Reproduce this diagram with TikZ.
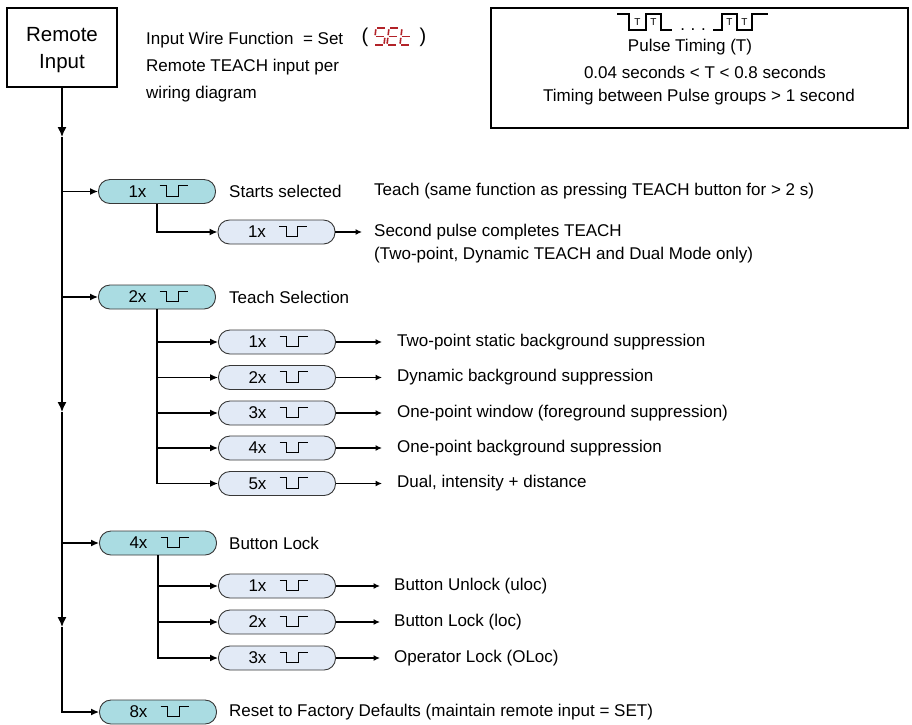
\documentclass[tikz,border=0pt]{standalone}
\usepackage{fontspec}
\setmainfont{Liberation Sans}
\usetikzlibrary{arrows.meta,calc}
\definecolor{tealc}{RGB}{170,220,226}
\definecolor{paleb}{RGB}{226,234,246}
\definecolor{edgec}{RGB}{55,55,55}
\definecolor{segred}{RGB}{178,34,40}
\tikzset{
  txt/.style={font=\fontsize{17}{20}\selectfont, inner sep=0pt, anchor=west},
  ctxt/.style={font=\fontsize{17}{20}\selectfont, inner sep=0pt},
  cnt/.style={font=\fontsize{17}{20}\selectfont, inner sep=0pt},
  pillA/.style={draw=edgec, line width=0.9pt, fill=tealc, rounded corners=11.5pt, minimum width=117pt, minimum height=24pt, inner sep=0pt},
  pillB/.style={pillA, fill=paleb},
  wave/.style={line width=0.9pt, black},
  conn/.style={line width=1.4pt, black},
  marr/.style={conn, -{Latex[length=10pt,width=9pt]}},
  barr/.style={conn, -{Latex[length=8pt,width=7pt]}},
  rarr/.style={line width=1.3pt, -{Latex[length=6.5pt,width=6pt]}},
  seg/.style={line width=1.6pt, segred},
}
\newcommand{\pulsepill}[5]{%
  \node[#5] (#1) at (#2,#3) {};
  \node[cnt] (#1c) at ($(#1.center)+(-19.5,0)$) {#4};
  \draw[wave] ($(#1.center)+(2.5,-6)$) -- ++(7,0) -- ++(0,10.5) -- ++(11.5,0) -- ++(0,-10.5) -- ++(9.5,0);
}
\newcommand{\segxa}{\draw[seg] (1.3,0) -- (8.7,0);}
\newcommand{\segxb}{\draw[seg] (10,1.3) -- (10,7.2);}
\newcommand{\segxc}{\draw[seg] (10,9.8) -- (10,15.7);}
\newcommand{\segxd}{\draw[seg] (1.3,17) -- (8.7,17);}
\newcommand{\segxe}{\draw[seg] (0,9.8) -- (0,15.7);}
\newcommand{\segxf}{\draw[seg] (0,1.3) -- (0,7.2);}
\newcommand{\segxg}{\draw[seg] (1.3,8.5) -- (8.7,8.5);}
% seven-segment digit: #1 x, #2 y, #3 segment list
\newcommand{\sevseg}[3]{%
  \begin{scope}[shift={(#1,#2)}, xslant=0.12]
    \foreach \s in {#3}{\csname segx\s\endcsname}
  \end{scope}
}
\begin{document}
\begin{tikzpicture}[x=1pt,y=-1pt]
\useasboundingbox (0,0) rectangle (912,724);
\fill[white] (0,0) rectangle (912,724);

% Remote input box
\node[draw, line width=1.5pt, minimum width=110pt, minimum height=79pt, inner sep=0pt] (rbox) at (62,47.5) {};
\node[align=center, font=\fontsize{20.5}{26.5}\selectfont, inner sep=0pt] (rtext) at (62,50) {Remote\\Input};

% top description
\node[txt] (d1) at (146,40) {Input Wire Function\ \ = Set};
\node[txt] (d2) at (146,67) {Remote TEACH input per};
\node[txt] (d3) at (146,94) {wiring diagram};
\node[font=\fontsize{20}{24}\selectfont, inner sep=0pt] (lp) at (365,37) {(};
\node[font=\fontsize{20}{24}\selectfont, inner sep=0pt] (rp) at (423,37) {)};
\sevseg{376}{28}{a,f,g,c,d}
\sevseg{389}{28}{a,f,g,e,d}
\sevseg{402}{28}{f,g,e,d}

% pulse timing box
\node[draw, line width=1.3pt, minimum width=417pt, minimum height=120pt, inner sep=0pt] (tbox) at (699.5,68) {};
\draw[line width=1.2pt] (617,14) -- (629,14) -- (629,30) -- (646,30) -- (646,14) -- (661,14) -- (661,30) -- (672,30);
\draw[line width=1.2pt] (713,30) -- (722,30) -- (722,14) -- (737,14) -- (737,30) -- (752,30) -- (752,14) -- (768,14);
\foreach \tx [count=\i] in {637.5,653.5,729.5,744.5}{
  \node[font=\fontsize{10}{12}\selectfont, inner sep=0pt] (tl\i) at (\tx,22) {T};
}
\node[ctxt, anchor=base] (dots) at (693,30.5) {.\,\,.\,\,.};
\node[ctxt] (b1) at (690,47) {Pulse Timing (T)};
\node[ctxt] (b2) at (705,72) {0.04 seconds < T < 0.8 seconds};
\node[ctxt] (b3) at (699,97) {Timing between Pulse groups > 1 second};

% top-level pills
\pulsepill{p1}{157}{191.5}{1x}{pillA}
\pulsepill{p2}{157}{297}{2x}{pillA}
\pulsepill{p4}{158}{543}{4x}{pillA}
\pulsepill{p8}{158}{712}{8x}{pillA}

% sub pills
\pulsepill{s1}{276.5}{232}{1x}{pillB}
\pulsepill{t1}{277}{342}{1x}{pillB}
\pulsepill{t2}{277}{377.5}{2x}{pillB}
\pulsepill{t3}{277}{413}{3x}{pillB}
\pulsepill{t4}{277}{448}{4x}{pillB}
\pulsepill{t5}{277}{483.5}{5x}{pillB}
\pulsepill{u1}{277}{586}{1x}{pillB}
\pulsepill{u2}{277}{622}{2x}{pillB}
\pulsepill{u3}{277}{658}{3x}{pillB}

% main line
\coordinate (ma1) at (62,137);
\coordinate (ma2) at (62,412);
\coordinate (ma3) at (62,627);
\draw[marr] (rbox.south) -- (ma1);
\draw[marr] (ma1) -- (ma2);
\draw[marr] (ma2) -- (ma3);
\draw[barr] (ma3) |- (p8.west);
\foreach \p in {p1,p2,p4}{
  \draw[barr] (\p.west -| rbox.south) -- (\p.west);
}

% sub branches
\draw[barr] (p1.south) |- (s1.west);
\foreach \t in {t1,t2,t3,t4,t5}{ \draw[barr] (p2.south) |- (\t.west); }
\foreach \t in {u1,u2,u3}{ \draw[barr] (p4.south) |- (\t.west); }

% labels
\node[txt] (l1) at (229,191.5) {Starts selected};
\node[txt] (l1b) at (374,191.5) {Teach (same function as pressing TEACH button for > 2 s)};
\node[txt] (ls1) at (374,232) {Second pulse completes TEACH};
\node[txt] (ls1b) at (374,255) {(Two-point, Dynamic TEACH and Dual Mode only)};
\node[txt] (l2) at (229,297) {Teach Selection};
\node[txt] (lt1) at (397,342) {Two-point static background suppression};
\node[txt] (lt2) at (397,377.5) {Dynamic background suppression};
\node[txt] (lt3) at (397,413) {One-point window (foreground suppression)};
\node[txt] (lt4) at (397,448) {One-point background suppression};
\node[txt] (lt5) at (397,483.5) {Dual, intensity + distance};
\node[txt] (l4) at (229,543) {Button Lock};
\node[txt] (lu1) at (394,586) {Button Unlock (uloc)};
\node[txt] (lu2) at (394,622) {Button Lock (loc)};
\node[txt] (lu3) at (394,658) {Operator Lock (OLoc)};
\node[txt] (l8) at (229,712) {Reset to Factory Defaults (maintain remote input = SET)};

% right arrows
\draw[rarr] (s1.east) -- ($(ls1.west)+(-12,0)$);
\foreach \t in {t1,t2,t3,t4,t5}{ \draw[rarr] (\t.east) -- ($(\t.east -| lt1.west)+(-15,0)$); }
\foreach \t in {u1,u2,u3}{ \draw[rarr] (\t.east) -- ($(\t.east -| lu1.west)+(-14,0)$); }
\end{tikzpicture}
\end{document}
